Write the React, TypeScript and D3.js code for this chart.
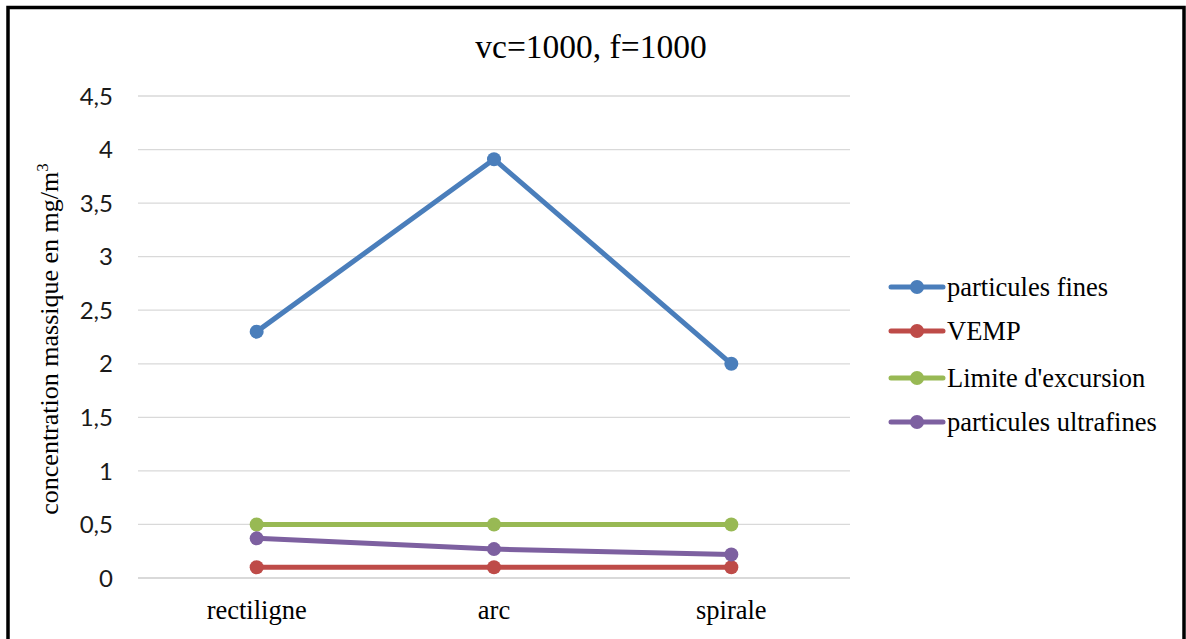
import { useEffect, useRef } from "react";
import * as d3 from "d3";

const categories = ["rectiligne", "arc", "spirale"];
const seriesNames = [
  "particules fines",
  "VEMP",
  "Limite d'excursion",
  "particules ultrafines",
];
const fines = [2.3, 3.91, 2.0];
const vemp = [0.1, 0.1, 0.1];
const limite = [0.5, 0.5, 0.5];
const ultrafines = [0.37, 0.27, 0.22];
const yTicks = [0, 0.5, 1, 1.5, 2, 2.5, 3, 3.5, 4, 4.5];
const colors = ["#4a7ebb", "#be4b48", "#98b954", "#7d60a0"];

export default function App() {
  const ref = useRef<SVGSVGElement>(null);

  useEffect(() => {
    const svg = d3.select(ref.current);
    svg.selectAll("*").remove();

    const width = 1186;
    const height = 639;
    const plot = { left: 138, right: 850, top: 96, bottom: 578 };
    const serif = "'Liberation Serif', 'Times New Roman', serif";
    const sans = "Lato, 'Open Sans', sans-serif";

    svg.append("rect").attr("width", width).attr("height", height).attr("fill", "white");

    // outer frame
    svg
      .append("rect")
      .attr("x", 8)
      .attr("y", 7.5)
      .attr("width", 1176)
      .attr("height", 700)
      .attr("fill", "none")
      .attr("stroke", "black")
      .attr("stroke-width", 3.5);

    const x = d3
      .scaleBand<string>()
      .domain(categories)
      .range([plot.left, plot.right]);

    const y = d3.scaleLinear().domain([0, 4.5]).range([plot.bottom, plot.top]);

    // gridlines
    svg
      .append("g")
      .selectAll("line")
      .data(yTicks)
      .enter()
      .append("line")
      .attr("x1", plot.left)
      .attr("x2", plot.right)
      .attr("y1", (d) => y(d))
      .attr("y2", (d) => y(d))
      .attr("stroke", "#d9d9d9")
      .attr("stroke-width", (d) => (d === 0 ? 2 : 1.3));

    // y tick labels
    svg
      .append("g")
      .selectAll("text")
      .data(yTicks)
      .enter()
      .append("text")
      .attr("x", 113)
      .attr("y", (d) => y(d))
      .attr("dy", "0.36em")
      .attr("text-anchor", "end")
      .attr("font-family", sans)
      .attr("font-size", 24)
      .attr("fill", "#1a1a1a")
      .text((d) => String(d).replace(".", ","));

    // x labels
    svg
      .append("g")
      .selectAll("text")
      .data(categories)
      .enter()
      .append("text")
      .attr("x", (d) => (x(d) as number) + x.bandwidth() / 2)
      .attr("y", 619)
      .attr("text-anchor", "middle")
      .attr("font-family", serif)
      .attr("font-size", 26.5)
      .attr("fill", "black")
      .text((d) => d);

    // title
    svg
      .append("text")
      .attr("x", 591)
      .attr("y", 58)
      .attr("text-anchor", "middle")
      .attr("font-family", serif)
      .attr("font-size", 33.5)
      .attr("fill", "black")
      .text("vc=1000, f=1000");

    // y axis title
    const yt = svg
      .append("text")
      .attr("transform", "translate(58,339) rotate(-90)")
      .attr("text-anchor", "middle")
      .attr("font-family", serif)
      .attr("font-size", 26)
      .attr("fill", "black");
    yt.append("tspan").text("concentration massique en mg/m");
    yt.append("tspan").attr("dy", -10).attr("font-size", 17).text("3");

    const allSeries = [fines, vemp, limite, ultrafines];
    const cx = (i: number) => (x(categories[i]) as number) + x.bandwidth() / 2;
    const line = d3
      .line<number>()
      .x((_, i) => cx(i))
      .y((d) => y(d));

    allSeries.forEach((vals, s) => {
      const g = svg.append("g");
      g.append("path")
        .attr("d", line(vals))
        .attr("fill", "none")
        .attr("stroke", colors[s])
        .attr("stroke-width", 5)
        .attr("stroke-linejoin", "round")
        .attr("stroke-linecap", "round");
      g.selectAll("circle")
        .data(vals)
        .enter()
        .append("circle")
        .attr("cx", (_, i) => cx(i))
        .attr("cy", (d) => y(d))
        .attr("r", 7)
        .attr("fill", colors[s]);
    });

    // legend
    const legendY = [287, 331, 378, 422];
    const legend = svg.append("g");
    seriesNames.forEach((name, s) => {
      const ly = legendY[s];
      legend
        .append("line")
        .attr("x1", 891)
        .attr("x2", 943)
        .attr("y1", ly)
        .attr("y2", ly)
        .attr("stroke", colors[s])
        .attr("stroke-width", 5)
        .attr("stroke-linecap", "round");
      legend
        .append("circle")
        .attr("cx", 917)
        .attr("cy", ly)
        .attr("r", 7)
        .attr("fill", colors[s]);
      legend
        .append("text")
        .attr("x", 947)
        .attr("y", ly)
        .attr("dy", "0.33em")
        .attr("font-family", serif)
        .attr("font-size", 26.5)
        .attr("fill", "black")
        .text(name);
    });
  }, []);

  return (
    <svg
      ref={ref}
      width={1186}
      height={639}
      style={{ position: "absolute", left: 0, top: 0 }}
    />
  );
}
